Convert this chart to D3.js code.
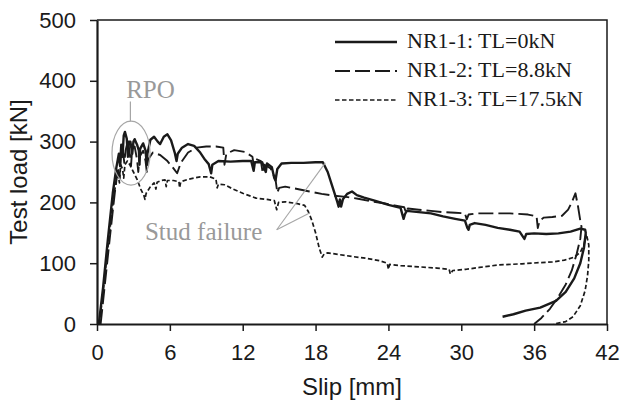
<!DOCTYPE html>
<html>
<head>
<meta charset="utf-8">
<script src="https://cdn.jsdelivr.net/npm/d3@7"></script>
<style>
    body { margin: 0; background: #fff; }
    .tick text { font-family: "Liberation Sans", Arial, sans-serif; font-size: 22px; fill: #1a1a1a; }
    .axis-title { font-family: "Liberation Sans", Arial, sans-serif; font-size: 24px; fill: #1a1a1a; }
    .legend text { font-family: "Liberation Serif", "Times New Roman", serif; font-size: 22px; fill: #1a1a1a; }
    .note { font-family: "Liberation Serif", "Times New Roman", serif; font-size: 25px; fill: #999; }
</style>
</head>
<body>
<svg id="chart" width="622" height="403"></svg>
<script>
//slip [mm], test load [kN]
let nr1_1 = [
    [0.15,0],[0.5,60],[0.9,140],[1.3,215],[1.6,258],[1.8,280],[1.9,260],[2.0,295],[2.1,275],[2.2,310],[2.3,316],
    [2.45,305],[2.55,275],[2.6,300],[2.75,300],[2.9,280],[3.0,300],[3.1,304],[3.3,295],[3.45,285],[3.5,262],
    [3.55,288],[3.8,297],[4.0,285],[4.1,262],[4.15,280],[4.4,303],[4.7,308],[5.0,300],[5.2,296],[5.5,308],
    [5.8,312],[6.1,302],[6.4,282],[6.55,268],[6.65,280],[7.0,290],[7.5,296],[8.0,293],[8.5,282],[8.9,270],
    [9.2,263],[9.4,248],[9.5,262],[10.0,268],[11,267],[12,268],[12.7,268],[12.9,252],[13.0,266],[13.6,266],
    [13.9,250],[14.0,264],[14.4,258],[14.6,240],[14.7,236],[14.85,255],[15.2,264],[16,265],[17,265],[18,266],
    [18.6,266],[19.0,250],[19.4,225],[19.8,200],[19.9,193],[20.0,205],[20.1,193],[20.25,205],[20.6,214],
    [21.0,218],[21.4,212],[22,208],[23,202],[24,196],[25.0,191],[25.15,180],[25.25,173],[25.35,180],[25.5,186],
    [26.5,184],[27.5,182],[28.5,177],[29.5,173],[30.3,170],[30.5,158],[30.6,155],[30.7,163],[31.1,166],[32,163],
    [33,158],[34,155],[34.8,152],[35.1,143],[35.2,140],[35.35,148],[36,149],[37,148],[38,149],[39,152],
    [39.8,157],[40.2,155],[40.25,150],[40.1,125],[39.8,100],[39.3,75],[38.6,53],[37.8,38],[36.5,27],
    [35.3,22],[34.3,16],[33.4,12]
];
let nr1_2 = [
    [0.3,0],[0.7,75],[1.1,150],[1.5,222],[1.75,258],[1.85,240],[1.95,275],[2.1,290],[2.25,265],[2.35,285],
    [2.55,302],[2.7,280],[2.8,260],[2.9,288],[3.1,292],[3.3,270],[3.4,250],[3.5,275],[3.8,285],[4.0,268],
    [4.1,250],[4.2,270],[4.6,282],[5.2,278],[5.8,268],[6.3,256],[6.6,248],[6.9,265],[7.5,282],[8.2,290],
    [9.0,292],[9.8,292],[10.4,290],[10.5,262],[10.65,280],[11.3,286],[12.2,283],[12.8,275],[12.9,262],
    [13.0,272],[13.5,268],[13.65,248],[13.8,262],[14.3,256],[14.7,238],[14.85,216],[15.0,224],[15.5,226],
    [16.5,222],[17.5,218],[18.5,214],[19.5,211],[20.5,209],[21.5,206],[22.5,202],[23.5,199],[24.5,195],
    [25.3,192],[25.45,183],[25.6,190],[26.5,188],[27.5,186],[28.5,184],[29.5,183],[30.3,182],[30.45,172],
    [30.6,180],[31.3,182],[32.5,182],[34,182],[35.5,180],[36.2,177],[36.3,158],[36.45,170],[36.8,175],
    [37.5,176],[38.3,178],[38.8,188],[39.1,200],[39.4,215],[39.6,195],[39.8,170],[39.9,160],[39.8,140],
    [39.5,115],[39.1,88],[38.6,65],[38.0,45],[37.3,25],[36.6,10],[36.0,0]
];
let nr1_3 = [
    [0.2,0],[0.6,70],[1.0,145],[1.4,212],[1.7,250],[1.85,232],[1.95,262],[2.1,255],[2.2,240],[2.3,262],
    [2.5,268],[2.7,262],[3.0,250],[3.3,238],[3.6,222],[3.85,212],[3.95,205],[4.05,215],[4.4,226],[4.7,232],
    [4.85,222],[4.95,233],[5.3,236],[5.6,237],[5.7,226],[5.8,236],[6.3,236],[6.75,234],[6.8,224],[6.9,234],
    [7.5,238],[8.5,242],[9.3,242],[9.8,238],[9.9,224],[10.0,230],[10.5,229],[11.2,222],[12.0,215],[13.1,207],
    [14.0,205],[14.6,203],[14.8,188],[14.95,200],[15.5,201],[16.5,198],[17.1,195],[17.4,185],[17.7,170],
    [18.0,150],[18.3,125],[18.55,110],[18.7,115],[19.0,117],[20,114],[21,111],[22.2,108],[23.3,104],
    [23.9,100],[24.0,90],[24.1,98],[25,96],[26.5,94],[28,92],[29.0,90],[29.1,82],[29.3,88],[30.4,90],
    [31.5,93],[33,97],[35,99],[36.5,101],[37.5,102],[38.5,105],[39.3,110],[39.8,118],[40.1,130],[40.3,148],
    [40.5,130],[40.5,105],[40.4,80],[40.2,55],[39.8,30],[39.2,12],[38.6,4],[37.6,0]
];
let seriesNames = ["NR1-1: TL=0kN", "NR1-2: TL=8.8kN", "NR1-3: TL=17.5kN"];
let xTicks = [0, 6, 12, 18, 24, 30, 36, 42];
let yTicks = [0, 100, 200, 300, 400, 500];

let margin = {top: 20, right: 15, bottom: 79, left: 97};
let svg = d3.select("#chart");
let width = +svg.attr("width") - margin.left - margin.right,
    height = +svg.attr("height") - margin.top - margin.bottom;

let x = d3.scaleLinear().domain([0, 42]).range([0, width]);
let y = d3.scaleLinear().domain([0, 500]).range([height, 0]);

let g = svg.append("g").attr("transform", `translate(${margin.left},${margin.top})`);

//frame top + right
g.append("path")
    .attr("d", `M0,0H${width}V${height}`)
    .attr("fill", "none")
    .attr("stroke", "#1a1a1a")
    .attr("stroke-width", 1.5);

//axes
let xAxis = g.append("g")
    .attr("transform", `translate(0,${height})`)
    .call(d3.axisBottom(x).tickValues(xTicks).tickSize(7).tickPadding(13).tickSizeOuter(0));
let yAxis = g.append("g")
    .call(d3.axisLeft(y).tickValues(yTicks).tickSize(7).tickPadding(14).tickSizeOuter(0));
[xAxis, yAxis].forEach(a => {
    a.select(".domain").attr("stroke", "#1a1a1a").attr("stroke-width", 2.2);
    a.selectAll(".tick line").attr("stroke", "#1a1a1a").attr("stroke-width", 1.5);
    a.attr("font-size", null).attr("font-family", null);
});

//axis titles
g.append("text").attr("class", "axis-title")
    .attr("x", width/2).attr("y", height + 71)
    .attr("text-anchor", "middle")
    .text("Slip [mm]");
g.append("text").attr("class", "axis-title")
    .attr("transform", `translate(${27 - margin.left},${height/2}) rotate(-90)`)
    .attr("text-anchor", "middle")
    .text("Test load [kN]");

//curves
let line = d3.line().x(d => x(d[0])).y(d => y(d[1]));
let styles = [
    {dash: null, w: 2.4},
    {dash: "15,5", w: 1.9},
    {dash: "4.5,2.5", w: 1.7}
];
[nr1_1, nr1_2, nr1_3].forEach((data, i) => {
    g.append("path")
        .datum(data)
        .attr("d", line)
        .attr("fill", "none")
        .attr("stroke", "#1a1a1a")
        .attr("stroke-width", styles[i].w)
        .attr("stroke-linejoin", "round")
        .attr("stroke-dasharray", styles[i].dash);
});

//annotations (anchor points in data units)
let gray = "#a6a6a6";
g.append("ellipse")
    .attr("cx", x(2.8)).attr("cy", y(281))
    .attr("rx", 19).attr("ry", 32)
    .attr("fill", "none").attr("stroke", gray).attr("stroke-width", 1.2);
g.append("line")
    .attr("x1", x(2.75)).attr("y1", y(281) - 32)
    .attr("x2", x(2.75)).attr("y2", y(366))
    .attr("stroke", gray).attr("stroke-width", 1.2);
g.append("text").attr("class", "note")
    .attr("x", x(2.4)).attr("y", y(371))
    .text("RPO");
g.append("text").attr("class", "note")
    .attr("x", x(3.95)).attr("y", y(138))
    .text("Stud failure");
[[18.8, 265], [17.55, 183]].forEach(p => {
    g.append("line")
        .attr("x1", x(14.8)).attr("y1", y(155))
        .attr("x2", x(p[0])).attr("y2", y(p[1]))
        .attr("stroke", gray).attr("stroke-width", 1.1);
});

//legend
let legend = g.append("g").attr("class", "legend");
seriesNames.forEach((name, i) => {
    let ly = 22 + i*29;
    legend.append("line")
        .attr("x1", 238).attr("x2", 300)
        .attr("y1", ly).attr("y2", ly)
        .attr("stroke", "#1a1a1a")
        .attr("stroke-width", styles[i].w)
        .attr("stroke-dasharray", styles[i].dash);
    legend.append("text")
        .attr("x", 310).attr("y", ly + 6)
        .text(name);
});
</script>
</body>
</html>
